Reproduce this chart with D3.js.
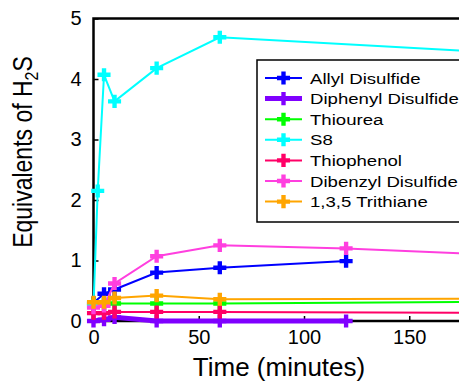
<!DOCTYPE html>
<html>
<head>
<meta charset="utf-8">
<script src="https://cdn.jsdelivr.net/npm/d3@7"></script>
<style>
  body { margin: 0; background: #fff; }
  svg { display: block; }
  text { font-family: "Liberation Sans", Arial, sans-serif; }
</style>
</head>
<body>
<div id="chart"></div>
<script>
// data (time in minutes, equivalents of H2S)
const allylT = [0, 5, 10, 30, 60, 120];
const allylV = [0.3, 0.45, 0.52, 0.8, 0.88, 0.99];
const diphenylT = [0, 5, 10, 30, 60, 120];
const diphenylV = [0.0, 0.02, 0.06, 0.0, 0.0, 0.0];
const thioureaT = [0, 5, 10, 30, 60, 240];
const thioureaV = [0.28, 0.28, 0.29, 0.29, 0.29, 0.33];
const s8T = [0, 2, 5, 10, 30, 60, 240];
const s8V = [0.25, 2.15, 4.07, 3.63, 4.18, 4.69, 4.34];
const thiophenolT = [0, 5, 10, 30, 60, 240];
const thiophenolV = [0.13, 0.13, 0.15, 0.15, 0.15, 0.13];
const dibenzylT = [0, 5, 10, 30, 60, 120, 240];
const dibenzylV = [0.22, 0.25, 0.62, 1.07, 1.25, 1.2, 1.02];
const trithianeT = [0, 5, 10, 30, 60, 240];
const trithianeV = [0.31, 0.31, 0.38, 0.42, 0.36, 0.37];

const seriesNames = ['Allyl Disulfide', 'Diphenyl Disulfide', 'Thiourea', 'S8', 'Thiophenol', 'Dibenzyl Disulfide', '1,3,5 Trithiane'];
const seriesColors = ['#0000ff', '#7f00ff', '#00ff00', '#00ffff', '#ff0066', '#ff3fdf', '#ffa500'];
const xTicks = [0, 50, 100, 150];
const yTicks = [0, 1, 2, 3, 4, 5];

const series = [
  [allylT, allylV], [diphenylT, diphenylV], [thioureaT, thioureaV], [s8T, s8V],
  [thiophenolT, thiophenolV], [dibenzylT, dibenzylV], [trithianeT, trithianeV]
].map((s, i) => ({
  name: seriesNames[i],
  color: seriesColors[i],
  width: i === 1 ? 5 : 2,
  points: s[0].map((t, j) => [t, s[1][j]])
}));

const width = 459, height = 381;
const margin = { left: 93.5, top: 18.5 };

const svg = d3.select('#chart').append('svg')
  .attr('width', width)
  .attr('height', height);

const xScale = d3.scaleLinear().domain([0, 180]).range([margin.left, margin.left + 180 * 2.105]);
const yScale = d3.scaleLinear().domain([0, 5]).range([321, margin.top]);

// plot frame
svg.append('rect')
  .attr('x', xScale(0)).attr('y', yScale(5))
  .attr('width', xScale(180) - xScale(0)).attr('height', yScale(0) - yScale(5))
  .attr('fill', 'none').attr('stroke', '#000').attr('stroke-width', 2.5);

// axes, ticks pointing inward
svg.append('g')
  .attr('transform', `translate(0,${yScale(0)})`)
  .call(d3.axisBottom(xScale).tickValues(xTicks).tickSizeInner(-5).tickSizeOuter(0).tickPadding(9))
  .call(g => g.select('.domain').remove())
  .call(g => g.attr('font-family', null))
  .call(g => g.selectAll('line').attr('stroke-width', 1.5))
  .call(g => g.selectAll('text').attr('font-size', 20).attr('fill', '#000'));

svg.append('g')
  .attr('transform', `translate(${xScale(0)},0)`)
  .call(d3.axisLeft(yScale).tickValues(yTicks).tickFormat(d3.format('d')).tickSizeInner(-5).tickSizeOuter(0).tickPadding(12))
  .call(g => g.select('.domain').remove())
  .call(g => g.attr('font-family', null))
  .call(g => g.selectAll('line').attr('stroke-width', 1.5))
  .call(g => g.selectAll('text').attr('font-size', 20).attr('fill', '#000'));

const lineGen = d3.line().x(d => xScale(d[0])).y(d => yScale(d[1]));
const marker = d3.symbol().type(d3.symbolCross).size(95);

const plot = svg.append('g');

series.forEach(s => {
  plot.append('path')
    .datum(s.points)
    .attr('d', lineGen)
    .attr('fill', 'none')
    .attr('stroke', s.color)
    .attr('stroke-width', s.width);
  plot.selectAll(null)
    .data(s.points)
    .enter()
    .append('path')
    .attr('d', marker)
    .attr('transform', d => `translate(${xScale(d[0])},${yScale(d[1])})`)
    .attr('fill', s.color);
});

// legend
const legend = svg.append('g').attr('transform', 'translate(257,60)');
legend.append('rect')
  .attr('width', 230).attr('height', 162)
  .attr('fill', '#fff').attr('stroke', '#000').attr('stroke-width', 1.5);

const items = legend.selectAll('.item')
  .data(series)
  .enter()
  .append('g')
  .attr('class', 'item')
  .attr('transform', (d, i) => `translate(0,${18 + i * 20.6})`);

items.append('line')
  .attr('x1', 8).attr('x2', 45)
  .attr('stroke', d => d.color)
  .attr('stroke-width', d => d.width);
items.append('path')
  .attr('d', marker)
  .attr('transform', 'translate(26.5,0)')
  .attr('fill', d => d.color);
items.append('text')
  .attr('transform', 'translate(53,5.5) scale(1.2,1)')
  .attr('font-size', 15.5)
  .text(d => d.name);

// axis titles
svg.append('text')
  .attr('transform', 'translate(279,376) scale(1.04,1)')
  .attr('text-anchor', 'middle')
  .attr('font-size', 25)
  .text('Time (minutes)');

const yTitle = svg.append('text')
  .attr('transform', 'translate(32,152) rotate(-90) scale(1,1.2)')
  .attr('text-anchor', 'middle')
  .attr('font-size', 23);
yTitle.append('tspan').text('Equivalents of H');
yTitle.append('tspan').attr('font-size', 16).attr('dy', 5).text('2');
yTitle.append('tspan').attr('dy', -5).text('S');
</script>
</body>
</html>
